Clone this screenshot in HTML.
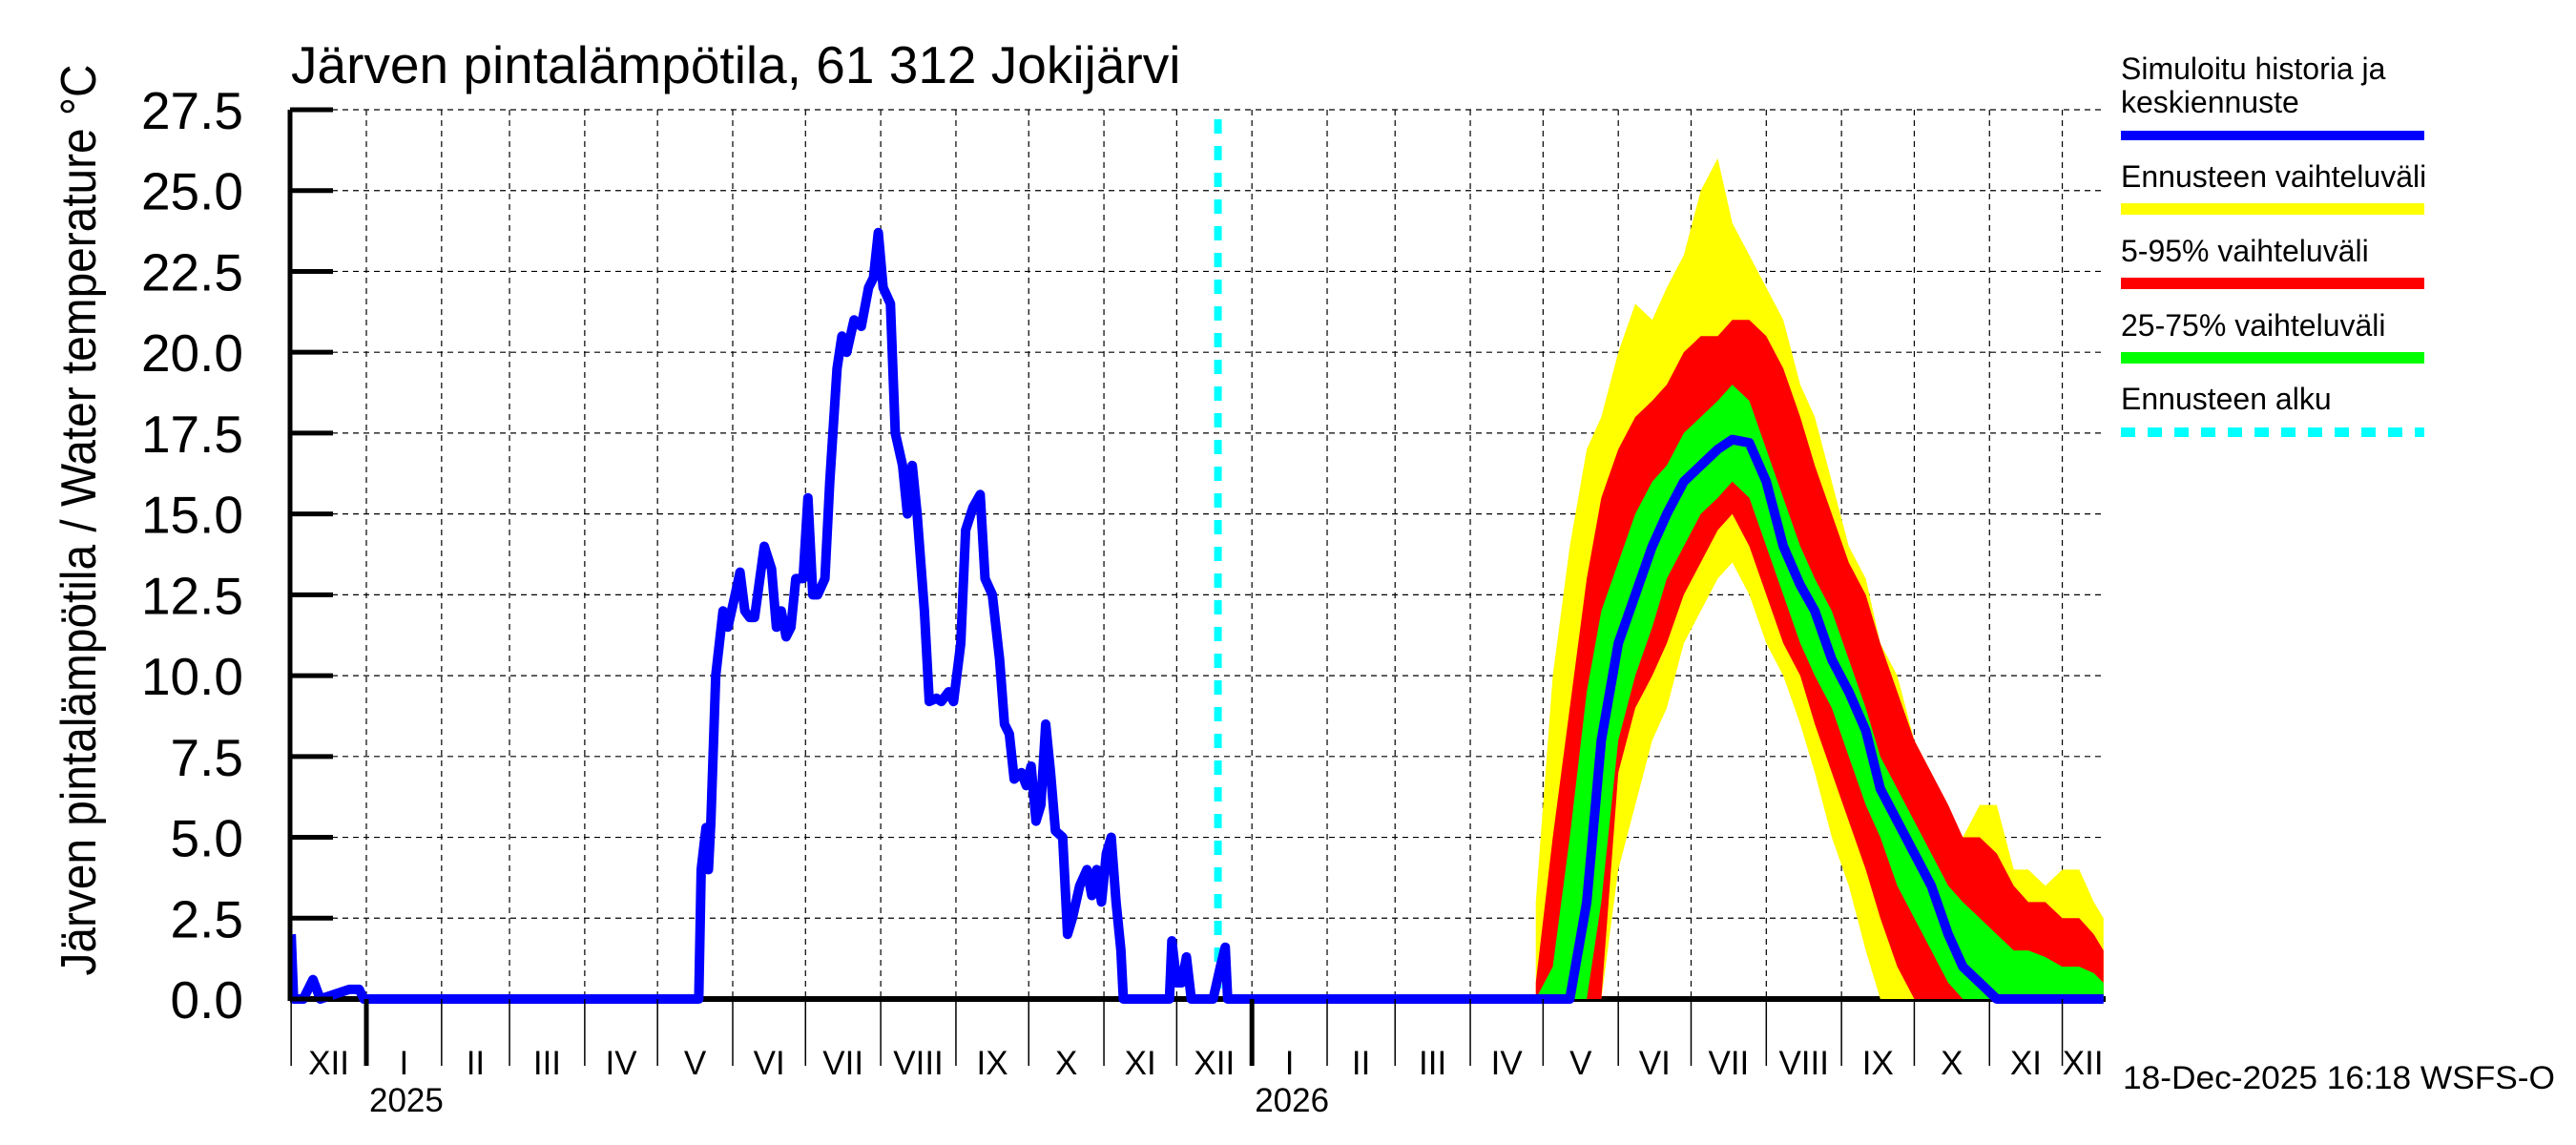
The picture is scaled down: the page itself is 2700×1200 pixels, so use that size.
<!DOCTYPE html>
<html><head><meta charset="utf-8"><style>
html,body{margin:0;padding:0;background:#fff}
svg{display:block;font-family:"Liberation Sans",sans-serif}
</style></head><body>
<svg id="chart" width="2700" height="1200" viewBox="0 0 2700 1200">
<rect x="0" y="0" width="2700" height="1200" fill="#fff"/>
<g id="grid"></g>
<g id="series" clip-path="url(#clip)"></g>
<defs><clipPath id="clip"><rect x="304" y="100" width="1904" height="960"/></clipPath></defs>
<g id="axes"></g>
<text x="305" y="87" font-size="55">Järven pintalämpötila, 61 312 Jokijärvi</text>
<text transform="translate(100,545) rotate(-90)" text-anchor="middle" font-size="52" textLength="955" lengthAdjust="spacingAndGlyphs">Järven pintalämpötila / Water temperature °C</text>
<g id="legend">
<g>
<text x="2223" y="83" font-size="32">Simuloitu historia ja</text>
<text x="2223" y="118" font-size="32">keskiennuste</text>
<rect x="2223" y="137" width="318" height="10" fill="#0000ff"/></g>
<g>
<text x="2223" y="196" font-size="32">Ennusteen vaihteluväli</text>
<rect x="2223" y="213" width="318" height="12" fill="#ffff00"/></g>
<g>
<text x="2223" y="274" font-size="32">5-95% vaihteluväli</text>
<rect x="2223" y="291" width="318" height="12" fill="#ff0000"/></g>
<g>
<text x="2223" y="352" font-size="32">25-75% vaihteluväli</text>
<rect x="2223" y="369" width="318" height="12" fill="#00ff00"/></g>
<g>
<text x="2223" y="429" font-size="32">Ennusteen alku</text>
<line x1="2223" y1="453" x2="2541" y2="453" stroke="#00ffff" stroke-width="10" stroke-dasharray="15 13"/></g>
</g>
<text x="2225" y="1141" font-size="34" textLength="453" lengthAdjust="spacingAndGlyphs">18-Dec-2025 16:18 WSFS-O</text>
</svg>
<script>
const yTicks=[0,2.5,5,7.5,10,12.5,15,17.5,20,22.5,25,27.5];
const monthStarts=[-31,0,31,59,90,120,151,181,212,243,273,304,334,365,396,424,455,485,516,546,577,608,638,669,699,716];
const monthLabels=["XII","I","II","III","IV","V","VI","VII","VIII","IX","X","XI","XII","I","II","III","IV","V","VI","VII","VIII","IX","X","XI","XII"];
const yearLabels=["2025","2026"];
const yearDays=[0,365];
const forecastStartDay=351;
const histDays=[-31,-30,-26,-22,-19,-7,-3,-1,137,138,140,141,142,144,147,149,152,154,156,158,160,164,167,169,171,173,175,177,180,182,184,186,189,191,194,196,198,201,204,207,209,211,213,216,218,221,223,225,227,230,232,235,237,240,242,245,247,250,253,255,258,261,263,265,267,270,272,274,276,278,280,282,284,287,289,291,294,297,299,301,303,305,307,309,311,312,322,331,332,334,336,338,340,349,352,354,355];
const histVals=[2.0,0,0,0.6,0,0.3,0.3,0,0,4.0,5.3,4.0,5.5,10,12,11.5,12.5,13.2,12,11.8,11.8,14,13.3,11.5,12,11.2,11.5,13,13,15.5,12.5,12.5,13,16,19.5,20.5,20,21,20.8,22,22.3,23.7,22,21.5,17.5,16.5,15,16.5,15,12,9.2,9.3,9.2,9.5,9.2,11,14.5,15.2,15.6,13,12.5,10.5,8.5,8.2,6.8,7,6.6,7.2,5.5,6,8.5,7,5.2,5,2.0,2.5,3.5,4,3.2,4,3,4.5,5,3.0,1.5,0,0,0,1.8,0.5,0.5,1.3,0,0,1.0,1.6,0];
const fcDays=[482,489,496,503,509,516,523,530,536,543,550,557,563,570,577,584,591,597,604,611,618,624,631,638,645,652,658,665,672,679,685,692,699,706,712,716];
const yellowHi=[3,10,14,17,18,20,21.5,21,22,23,25,26,24,23,22,21,19,18,16,14,13,11,10,8,7,5.5,5,6,6,4,4,3.5,4,4,3,2.5];
const redHi=[0.5,5,9,13,15.5,17,18,18.5,19,20,20.5,20.5,21,21,20.5,19.5,18,16.5,15,13.5,12.5,11,9.5,8,7,6,5,5,4.5,3.5,3,3,2.5,2.5,2,1.5];
const greenHi=[0,1,5,9.5,12,13.5,15,16,16.5,17.5,18,18.5,19,18.5,17,15.5,14,13,12,10.5,9,7.5,6.5,5.5,4.5,3.5,3,2.5,2,1.5,1.5,1.3,1,1,0.8,0.5];
const median=[0,0,0,3,8,11,12.5,14,15,16,16.5,17,17.3,17.2,16,14,12.8,12,10.5,9.5,8.3,6.5,5.5,4.5,3.5,2,1,0.5,0,0,0,0,0,0,0,0];
const greenLo=[0,0,0,0,3,8,10,11.5,13,14,15,15.5,16,15.5,14,12.5,11,10,9,7.5,6,5,3.5,2.5,1.5,0.5,0,0,0,0,0,0,0,0,0,0];
const redLo=[0,0,0,0,0,7,9,10,11,12.5,13.5,14.5,15,14,12.5,11,10,8.5,7,5.5,4,2.5,1,0,0,0,0,0,0,0,0,0,0,0,0,0];
const yellowLo=[0,0,0,0,0,4,6,8,9,11,12,13,13.5,12.5,11,10,8.5,7,5,3.5,1.5,0,0,0,0,0,0,0,0,0,0,0,0,0,0,0];

const NS="http://www.w3.org/2000/svg";
const X0=304,X1=2207,Y0=1047,YT=115;
function xs(d){return 384+d*2.543;}
function ys(v){return Y0-v*(Y0-YT)/27.5;}
function mk(tag,attrs,parent){const e=document.createElementNS(NS,tag);for(const k in attrs)e.setAttribute(k,attrs[k]);parent.appendChild(e);return e;}
const grid=document.getElementById('grid'),axes=document.getElementById('axes'),series=document.getElementById('series');

yTicks.forEach(v=>{
  if(v>0){const g=mk('line',{x1:X0,x2:X1,y1:ys(v),y2:ys(v),stroke:'#000','stroke-width':1.2,'stroke-dasharray':'6 5'},grid);
  
  }
  const t=mk('line',{x1:X0,x2:349,y1:ys(v),y2:ys(v),stroke:'#000','stroke-width':5},axes);
  
  
  const l=mk('text',{x:255,y:ys(v)+20,'text-anchor':'end','font-size':55},axes);
  l.textContent=v.toFixed(1);
  
  
});
monthStarts.forEach((d,i)=>{
  const x=xs(d);
  if(i>0&&i<monthStarts.length-1){const g=mk('line',{x1:x,x2:x,y1:YT,y2:Y0,stroke:'#000','stroke-width':1.2,'stroke-dasharray':'6 5'},grid);
  
  }
  if(i<monthStarts.length-1){
    const s=mk('line',{x1:x,x2:x,y1:Y0,y2:1117,stroke:'#000','stroke-width':1.5},axes);
    
    
    const l=mk('text',{x:(x+xs(monthStarts[i+1]))/2,y:1126,'text-anchor':'middle','font-size':35},axes);
    l.textContent=monthLabels[i];
    
    
  }
});
yearDays.forEach((d,i)=>{
  const x=xs(d);
  const t=mk('line',{x1:x,x2:x,y1:Y0,y2:1117,stroke:'#000','stroke-width':5},axes);
  
  
  const l=mk('text',{x:x+3,y:1165,'font-size':35},axes);
  l.textContent=yearLabels[i];
  
  
});
const ya=mk('line',{x1:X0,x2:X0,y1:YT,y2:Y0+2,stroke:'#000','stroke-width':5},axes);


const xa=mk('line',{x1:X0,x2:X1,y1:Y0,y2:Y0,stroke:'#000','stroke-width':6},series);



function band(hi,lo,color,name){
  let p=fcDays.map((d,i)=>xs(d)+','+ys(hi[i]));
  for(let i=fcDays.length-1;i>=0;i--)p.push(xs(fcDays[i])+','+ys(lo[i]));
  const e=mk('polygon',{points:p.join(' '),fill:color},series);
  
  
}
band(yellowHi,yellowLo,'#ffff00','forecast-range-band');
band(redHi,redLo,'#ff0000','band-5-95');
band(greenHi,greenLo,'#00ff00','band-25-75');

const fl=mk('line',{x1:xs(forecastStartDay),x2:xs(forecastStartDay),y1:YT+10,y2:Y0,stroke:'#00ffff','stroke-width':8,'stroke-dasharray':'15 13'},series);



const pts=histDays.map((d,i)=>xs(d)+','+ys(histVals[i])).concat(fcDays.map((d,i)=>xs(d)+','+ys(median[i])));
const ml=mk('polyline',{points:pts.join(' '),fill:'none',stroke:'#0000ff','stroke-width':10,'stroke-linejoin':'round'},series);


</script>
</body></html>
